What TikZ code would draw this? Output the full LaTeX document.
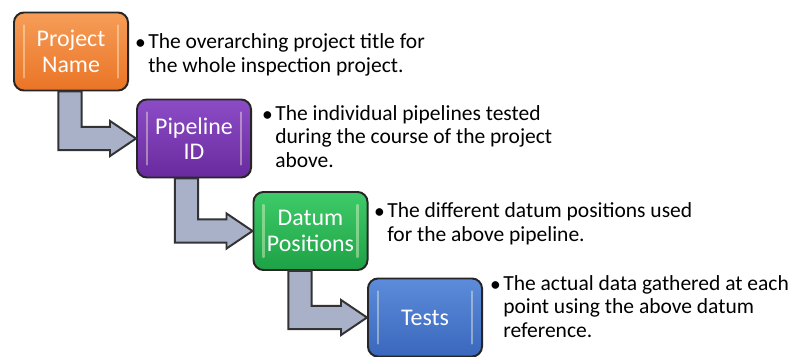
\documentclass[tikz,border=0pt]{standalone}
\usepackage{fontspec}
\setmainfont{Carlito}
\usetikzlibrary{calc}
\definecolor{arrowgray}{HTML}{A9B1C9}
\definecolor{orangetop}{HTML}{F69D58}
\definecolor{orangebot}{HTML}{EA7426}
\definecolor{purpletop}{HTML}{8C4CC6}
\definecolor{purplebot}{HTML}{6A2A9E}
\definecolor{greentop}{HTML}{3FCB69}
\definecolor{greenbot}{HTML}{1DA246}
\definecolor{bluetop}{HTML}{5C8CDA}
\definecolor{bluebot}{HTML}{3A67BD}
% bent arrow from the bottom of one box to the left side of the next
\newcommand{\bentarrow}[3]{%
  \draw[bent arrow] let \p1=($(#1.south)+(#3,0)$), \p2=(#2.west) in
    (\x1-8.2pt,\y1) -- (\x1-8.2pt,\y2-8.2pt) -- (\x2-18.5pt,\y2-8.2pt)
    -- (\x2-18.5pt,\y2-12.5pt) -- (\x2,\y2) -- (\x2-18.5pt,\y2+12.5pt)
    -- (\x2-18.5pt,\y2+8.2pt) -- (\x1+8.2pt,\y2+8.2pt) -- (\x1+8.2pt,\y1) -- cycle;}
\newcommand{\gloss}[1]{%
  \draw[gloss line] ($(#1.north west)+(11,14)$) -- ($(#1.south west)+(11,-14)$);
  \draw[gloss line] ($(#1.north east)+(-11,14)$) -- ($(#1.south east)+(-11,-14)$);}

\begin{document}
\begin{tikzpicture}[x=0.025cm,y=-0.025cm,
    stage box/.style={rounded corners=0.25cm,draw=black!85,line width=1.4pt,text=white,align=center,
      minimum width=2.85cm,minimum height=1.95cm,inner sep=0pt,font=\fontsize{17}{18}\selectfont},
    desc/.style={align=left,inner sep=0pt,font=\fontsize{15.3}{16.4}\selectfont,anchor=base west},
    bullet/.style={inner sep=0pt,font=\fontsize{15.3}{16.4}\selectfont,anchor=base east},
    bent arrow/.style={fill=arrowgray,draw=black!80,line width=1.4pt},
    gloss line/.style={white!85!yellow,opacity=0.4,line width=1.6pt,line cap=round}]
  \useasboundingbox (0,0) rectangle (790,356);

  \node[stage box,top color=orangetop,bottom color=orangebot] (pname) at (71,51.5) {Project\\Name};
  \node[stage box,top color=purpletop,bottom color=purplebot] (pid) at (194,138.5) {Pipeline\\ID};
  \node[stage box,top color=greentop,bottom color=greenbot] (datum) at (310.5,231) {Datum\\Positions};
  \node[stage box,top color=bluetop,bottom color=bluebot] (tests) at (425,317.5) {Tests};
  \gloss{pname} \gloss{pid} \gloss{datum} \gloss{tests}

  \bentarrow{pname}{pid}{-1}
  \bentarrow{pid}{datum}{-7.5}
  \bentarrow{datum}{tests}{-10.5}

  % text nodes sit on the baseline of their last line
  \node[desc] (tname) at (148,72) {The overarching project title for\\the whole inspection project.};
  \node[bullet] (bname) at ($(tname.base west)+(-2,-23)$) {\textbullet};
  \node[desc] (tid) at (275,167) {The individual pipelines tested\\during the course of the project\\above.};
  \node[bullet] (bid) at ($(tid.base west)+(-2,-46)$) {\textbullet};
  \node[desc] (tdatum) at (387,241) {The different datum positions used\\for the above pipeline.};
  \node[bullet] (bdatum) at ($(tdatum.base west)+(-2,-23)$) {\textbullet};
  \node[desc] (ttests) at (503,337) {The actual data gathered at each\\point using the above datum\\reference.};
  \node[bullet] (btests) at ($(ttests.base west)+(-2,-46)$) {\textbullet};
\end{tikzpicture}
\end{document}
